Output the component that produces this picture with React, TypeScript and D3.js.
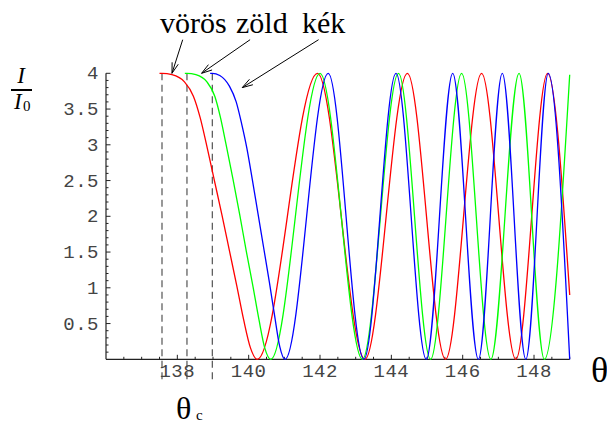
import React from "react";
import * as d3 from "d3";

// ---- data ----
const redTheta = [137.5, 137.57, 137.85, 138.2, 138.45, 138.64, 138.81, 139.03, 139.25, 139.46, 139.67, 139.86, 140.05, 140.24, 141.93, 143.26, 144.45, 145.52, 146.53, 147.49, 148.38, 149.0];
const redI = [4, 4, 3.98, 3.88, 3.68, 3.38, 3.02, 2.52, 2.02, 1.52, 1.02, 0.55, 0.16, 0, 4, 0, 4, 0, 4, 0, 4, 0.9];

const greenTheta = [138.21, 138.27, 138.52, 138.83, 139.05, 139.21, 139.36, 139.56, 139.75, 139.93, 140.12, 140.29, 140.45, 140.62, 142.0, 143.19, 144.2, 145.1, 145.97, 146.79, 147.58, 148.29, 149.0];
const greenI = [4, 4, 3.98, 3.88, 3.68, 3.38, 3.02, 2.52, 2.02, 1.52, 1.02, 0.55, 0.16, 0, 4, 0, 4, 0, 4, 0, 4, 0, 3.98];

const blueTheta = [138.92, 138.98, 139.19, 139.46, 139.65, 139.8, 139.95, 140.1, 140.26, 140.42, 140.58, 140.73, 140.87, 141.02, 142.23, 143.23, 144.13, 144.98, 145.72, 146.44, 147.11, 147.77, 148.4, 149.0];
const blueI = [4, 4, 3.97, 3.82, 3.6, 3.3, 2.95, 2.52, 2.04, 1.56, 1.08, 0.6, 0.18, 0, 4, 0, 4, 0, 4, 0, 4, 0, 4, 0];

const criticalAngles = [137.57, 138.27, 138.98];
const xTickLabels = [138, 140, 142, 144, 146, 148];
const yTickLabels = [0.5, 1, 1.5, 2, 2.5, 3, 3.5, 4];
const colorNames = ["vörös", "zöld", "kék"];
// arrow: start (theta, I) -> tip (theta, I)
const arrowStartTheta = [138.15, 140.04, 141.96];
const arrowStartI = [4.47, 4.47, 4.47];
const arrowTipTheta = [137.85, 138.68, 139.82];
const arrowTipI = [4.0, 4.0, 3.8];

const W = 607;
const H = 427;
const SERIF = "'Times New Roman', 'Liberation Serif', Tinos, 'DejaVu Serif', serif";
const MONO = "'Courier New', 'Liberation Mono', Cousine, 'DejaVu Sans Mono', monospace";

export default function App() {
  const x = d3.scaleLinear().domain([136, 149]).range([106, 569.7]);
  const y = d3.scaleLinear().domain([0, 4]).range([359.3, 73.3]);

  const line = d3
    .line<[number, number]>()
    .x((d) => x(d[0]))
    .y((d) => y(d[1]))
    .curve(d3.curveMonotoneX);

  const series = [
    { t: redTheta, v: redI, c: "#ff0000" },
    { t: greenTheta, v: greenI, c: "#00ff00" },
    { t: blueTheta, v: blueI, c: "#0000ff" },
  ];

  const xMinor = x.ticks(26).filter((t) => t > 136 && t < 149.01);
  const yMinor = y.ticks(40).filter((t) => t > 0);
  const axisColor = "#222";
  const labelColor = "#444";

  const arrowHead = (x1: number, y1: number, x2: number, y2: number) => {
    const ang = Math.atan2(y2 - y1, x2 - x1);
    const L = 11;
    const a = (17 * Math.PI) / 180;
    const p1 = [x2 - L * Math.cos(ang - a), y2 - L * Math.sin(ang - a)];
    const p2 = [x2 - L * Math.cos(ang + a), y2 - L * Math.sin(ang + a)];
    return `M${p1[0]},${p1[1]}L${x2},${y2}L${p2[0]},${p2[1]}`;
  };

  const wordX = [160, 236, 302];
  const serifStyle = { fontFamily: SERIF };
  const monoStyle = { fontFamily: MONO, letterSpacing: "0.5px" };

  return (
    <svg
      width={W}
      height={H}
      style={{ position: "absolute", left: 0, top: 0, background: "#fff" }}
    >
      <rect width={W} height={H} fill="#fff" />
      {/* axes */}
      <line x1={x(136)} x2={x(149)} y1={y(0)} y2={y(0)} stroke={axisColor} strokeWidth={1.2} />
      <line x1={x(136)} x2={x(136)} y1={y(0)} y2={y(4)} stroke={axisColor} strokeWidth={1.2} />
      {xMinor.map((t) => {
        const major = xTickLabels.includes(t);
        return (
          <line key={"xt" + t} x1={x(t)} x2={x(t)} y1={y(0)} y2={y(0) - (major ? 4.5 : 2.5)} stroke={axisColor} strokeWidth={1} />
        );
      })}
      {yMinor.map((t) => {
        const major = Math.abs(t * 2 - Math.round(t * 2)) < 1e-6;
        return (
          <line key={"yt" + t} x1={x(136)} x2={x(136) + (major ? 4.5 : 2.5)} y1={y(t)} y2={y(t)} stroke={axisColor} strokeWidth={1} />
        );
      })}
      {xTickLabels.map((t) => (
        <text key={"xl" + t} x={x(t)} y={y(0) + 18} textAnchor="middle" style={monoStyle} fontSize={19} fill={labelColor}>
          {t}
        </text>
      ))}
      {yTickLabels.map((t) => (
        <text key={"yl" + t} x={99} y={y(t) + 6} textAnchor="end" style={monoStyle} fontSize={19} fill={labelColor}>
          {String(t)}
        </text>
      ))}
      {/* dashed critical-angle lines */}
      {criticalAngles.map((a) => (
        <line key={"d" + a} x1={x(a)} x2={x(a)} y1={y(4)} y2={y(0) + 22} stroke="#444" strokeWidth={1.1} strokeDasharray="7,4.5" />
      ))}
      {/* curves */}
      {series.map((s, i) => (
        <path key={"s" + i} d={line(s.t.map((t, j) => [t, s.v[j]] as [number, number])) || ""} fill="none" stroke={s.c} strokeWidth={1.3} />
      ))}
      {/* colour names with arrows */}
      {colorNames.map((n, i) => (
        <text key={"n" + i} x={wordX[i]} y={33} fontSize={30} fill="#000" style={serifStyle}>
          {n}
        </text>
      ))}
      {colorNames.map((n, i) => {
        const x1 = x(arrowStartTheta[i]);
        const y1 = y(arrowStartI[i]);
        const x2 = x(arrowTipTheta[i]);
        const y2 = y(arrowTipI[i]);
        return (
          <g key={"a" + i} stroke="#000" strokeWidth={1} fill="none">
            <line x1={x1} y1={y1} x2={x2} y2={y2} />
            <path d={arrowHead(x1, y1, x2, y2)} />
          </g>
        );
      })}
      {/* y label I / I0 */}
      <text x={21} y={83} fontSize={23} fontStyle="italic" textAnchor="middle" style={serifStyle}>I</text>
      <line x1={11} x2={32} y1={90} y2={90} stroke="#000" strokeWidth={2} />
      <text x={14} y={109} fontSize={23} fontStyle="italic" style={serifStyle}>I</text>
      <text x={23} y={111} fontSize={15} style={serifStyle}>0</text>
      {/* axis label theta */}
      <text x={591} y={382} fontSize={36} style={serifStyle}>θ</text>
      {/* theta_c */}
      <text x={176} y={419} fontSize={32} style={serifStyle}>θ</text>
      <text x={196} y={420} fontSize={15} style={serifStyle}>c</text>
    </svg>
  );
}
